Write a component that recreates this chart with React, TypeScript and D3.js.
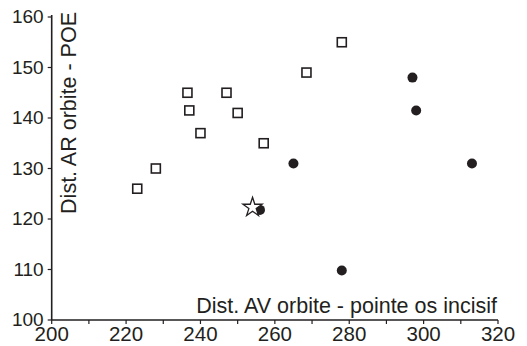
import React from 'react';
import * as d3 from 'd3';

// squares (open) and circles (filled), plus the single star
const squaresX = [223, 228, 236.5, 237, 240, 247, 250, 257, 268.5, 278];
const squaresY = [126, 130, 145, 141.5, 137, 145, 141, 135, 149, 155];
const circlesX = [297, 298, 265, 313, 278, 256];
const circlesY = [148, 141.5, 131, 131, 109.8, 121.8];
const starX = [254];
const starY = [122.3];

const xTicks = [200, 220, 240, 260, 280, 300, 320];
const xMinor = d3.range(200, 321, 10);
const yTicks = [100, 110, 120, 130, 140, 150, 160];

const W = 527;
const H = 346;
const font = 'Liberation Sans, Arial, Helvetica, sans-serif';
const ink = '#231f20';

export default function App() {
    const x = d3.scaleLinear().domain([200, 320]).range([51.7, 498]);
    const y = d3.scaleLinear().domain([100, 160]).range([320, 17]);
    const star = d3.symbol().type(d3.symbolStar).size(115)();
    const sq = 9;

    return (
        <div style={{ position: 'absolute', left: 0, top: 0 }}>
            <svg width={W} height={H} style={{ display: 'block', background: '#fff' }}>
                {/* axes */}
                <line x1={x(200)} x2={x(200)} y1={y(160) - 2} y2={y(100)} stroke={ink} strokeWidth={1.6} />
                <line x1={x(200)} x2={x(320)} y1={y(100)} y2={y(100)} stroke={ink} strokeWidth={1.6} />
                {yTicks.map((t) => (
                    <g key={'y' + t}>
                        <line x1={x(200) - 4} x2={x(200)} y1={y(t)} y2={y(t)} stroke={ink} strokeWidth={1.2} />
                        <text x={x(200) - 8} y={y(t) + 6} textAnchor="end" fontFamily={font} fontSize={19} fill={ink}>
                            {t}
                        </text>
                    </g>
                ))}
                {xMinor.map((t) => (
                    <line key={'xm' + t} x1={x(t)} x2={x(t)} y1={y(100)} y2={y(100) + 4} stroke={ink} strokeWidth={1.2} />
                ))}
                {xTicks.map((t) => (
                    <text key={'x' + t} x={x(t)} y={y(100) + 21} textAnchor="middle" fontFamily={font} fontSize={20.5} fill={ink}>
                        {t}
                    </text>
                ))}
                {/* axis titles */}
                <text x={497} y={313} textAnchor="end" fontFamily={font} fontSize={21.5} fill={ink}>
                    Dist. AV orbite - pointe os incisif
                </text>
                <text
                    transform={`translate(76,12) rotate(-90)`}
                    textAnchor="end"
                    fontFamily={font}
                    fontSize={21.5}
                    fill={ink}
                >
                    Dist. AR orbite - POE
                </text>
                {/* points */}
                {squaresX.map((v, i) => (
                    <rect
                        key={'s' + i}
                        x={x(v) - sq / 2}
                        y={y(squaresY[i]) - sq / 2}
                        width={sq}
                        height={sq}
                        fill="#fff"
                        stroke={ink}
                        strokeWidth={1.6}
                    />
                ))}
                {circlesX.map((v, i) => (
                    <circle key={'c' + i} cx={x(v)} cy={y(circlesY[i])} r={5} fill={ink} />
                ))}
                {starX.map((v, i) => (
                    <path
                        key={'st' + i}
                        d={star || ''}
                        transform={`translate(${x(v)},${y(starY[i])})`}
                        fill="#fff"
                        stroke={ink}
                        strokeWidth={1.3}
                    />
                ))}
            </svg>
        </div>
    );
}
